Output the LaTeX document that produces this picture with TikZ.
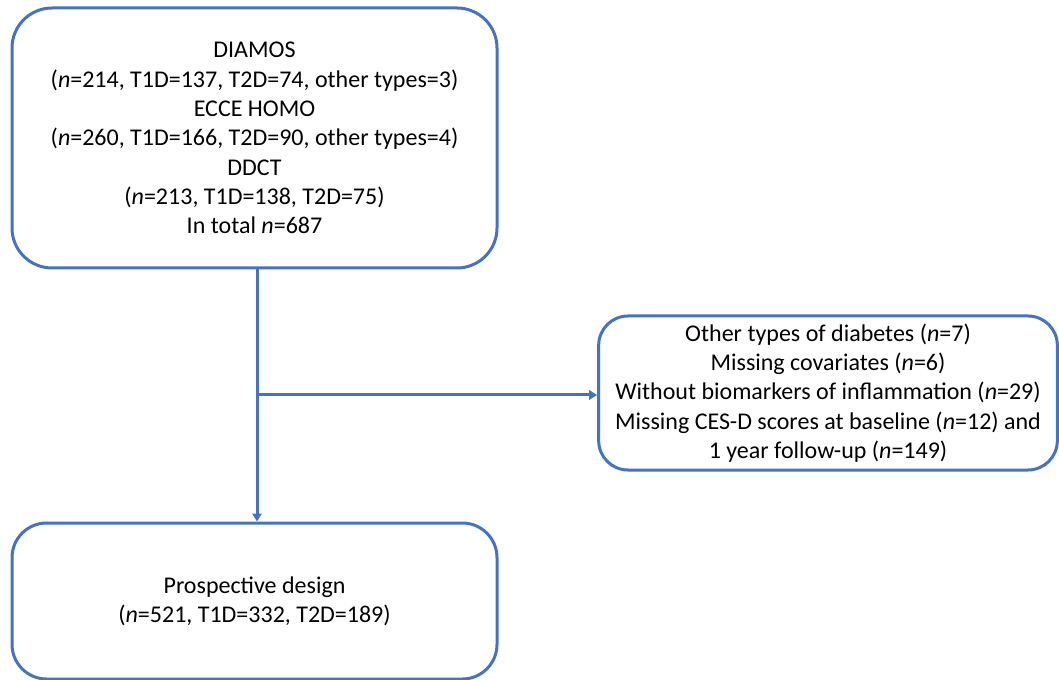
\documentclass[tikz,border=0pt]{standalone}
\usepackage{fontspec}
\setmainfont{Carlito}
\usetikzlibrary{arrows.meta}
\definecolor{boxblue}{HTML}{4472C4}
\tikzset{
  flowbox/.style={draw=boxblue, line width=2.25pt, align=center, inner sep=0.75pt,
    font=\fontsize{18}{22}\selectfont},
  flowline/.style={draw=boxblue, line width=2.25pt, -{Triangle[length=6pt,width=7pt]}}
}
\begin{document}
\begin{tikzpicture}[x=0.75pt,y=0.75pt,yscale=-1,xscale=1]
\useasboundingbox (0,0) rectangle (1059,680);

% Text Node
\node (cohorts) [flowbox, rounded corners=30pt, minimum width=363.75pt, minimum height=195pt] at (254.5,138)
  {DIAMOS\\(\textit{n}=214, T1D=137, T2D=74, other types=3)\\ECCE HOMO\\(\textit{n}=260, T1D=166, T2D=90, other types=4)\\DDCT\\(\textit{n}=213, T1D=138, T2D=75)\\In total \textit{n}=687};
% Text Node
\node (excluded) [flowbox, rounded corners=22pt, minimum width=344pt, minimum height=115.5pt] at (828,393)
  {Other types of diabetes (\textit{n}=7)\\Missing covariates (\textit{n}=6)\\Without biomarkers of inflammation (\textit{n}=29)\\Missing CES-D scores at baseline (\textit{n}=12) and\\1 year follow-up (\textit{n}=149)};
% Text Node
\node (prospective) [flowbox, rounded corners=26pt, minimum width=363.75pt, minimum height=117pt] at (254.5,601)
  {Prospective design\\(\textit{n}=521, T1D=332, T2D=189)};
% Connection
\coordinate (split) at (257,395);
\draw [flowline] (cohorts.south -| split) -- (prospective.north -| split);
% Connection
\draw [flowline] (split) -- (split -| excluded.west);

\end{tikzpicture}
\end{document}
